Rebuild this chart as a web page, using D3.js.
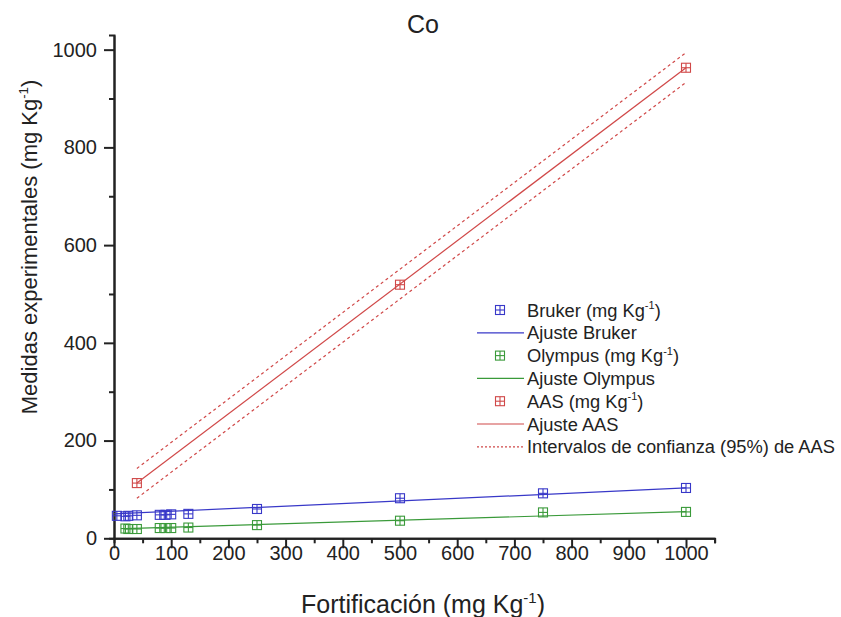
<!DOCTYPE html>
<html><head><meta charset="utf-8">
<script src="https://cdn.jsdelivr.net/npm/d3@7/dist/d3.min.js"></script>
<style>body{margin:0;background:#fff;} text{font-family:"Liberation Sans",Arial,sans-serif;fill:#222;}</style>
</head><body><svg id="c" width="841" height="617"></svg>
<script>
// Data
const brukerX = [5, 20, 25, 40, 80, 90, 100, 130, 250, 500, 750, 1000];
const brukerY = [46, 45, 46, 47, 48, 48, 49, 50, 60, 82, 92, 103];
const olympusX = [20, 25, 40, 80, 90, 100, 130, 250, 500, 750, 1000];
const olympusY = [20, 19, 19, 21, 21, 21, 22, 27, 36, 53, 54];
const aasX = [40, 500, 1000];
const aasY = [113, 519, 963];
const fitBrukerX = [0, 1000], fitBrukerY = [50, 103];
const fitOlympusX = [20, 1000], fitOlympusY = [20, 54.5];
const fitAasX = [40, 1000], fitAasY = [113, 963];
const ciUpperY = [143, 994], ciLowerY = [82, 933];
const xTicks = [0,100,200,300,400,500,600,700,800,900,1000];
const yTicks = [0,200,400,600,800,1000];

const svg = d3.select("#c");
svg.append("rect").attr("width",841).attr("height",617).attr("fill","#fff");
const x = d3.scaleLinear().domain([0,1050]).range([114,714.6]);
const y = d3.scaleLinear().domain([0,1030]).range([538.3,35]);

const cBlue="#3838c8", cGreen="#3a9a3a", cRed="#d04848";

// axes
const xAxis = svg.append("g").attr("transform","translate(0,538.3)");
xAxis.call(d3.axisBottom(x).tickValues(xTicks).tickSize(10).tickSizeOuter(0).tickFormat(d3.format("d")));
xAxis.append("g").call(d3.axisBottom(x).tickValues(d3.range(50,1100,100)).tickSize(5).tickFormat(""));
const yAxis = svg.append("g").attr("transform","translate(114,0)");
yAxis.call(d3.axisLeft(y).tickValues(yTicks).tickSize(10).tickSizeOuter(0).tickFormat(d3.format("d")));
yAxis.append("g").call(d3.axisLeft(y).tickValues(d3.range(100,1100,200)).tickSize(5).tickFormat(""));
svg.selectAll(".domain").attr("stroke","#222").attr("stroke-width",2);
svg.selectAll(".tick line").attr("stroke","#222").attr("stroke-width",2);
xAxis.selectAll(".tick text").attr("font-size",20).attr("dy","0.5em").attr("y",12).attr("fill","#222");
yAxis.selectAll(".tick text").attr("font-size",20).attr("x",-17).attr("fill","#222");
svg.selectAll(".tick text").style("font-family",'"Liberation Sans",Arial,sans-serif');

const line = d3.line().x(d=>x(d[0])).y(d=>y(d[1]));
function drawLine(xs, ys, color, dash){
  svg.append("path").attr("d", line(xs.map((v,i)=>[v,ys[i]])))
    .attr("fill","none").attr("stroke",color).attr("stroke-width",1.2)
    .attr("stroke-dasharray", dash||null);
}
drawLine(fitBrukerX, fitBrukerY, cBlue);
drawLine(fitOlympusX, fitOlympusY, cGreen);
drawLine(fitAasX, fitAasY, cRed);
drawLine(fitAasX, ciUpperY, cRed, "3,3");
drawLine(fitAasX, ciLowerY, cRed, "3,3");

function marker(g, cx, cy, color){
  const s=4.5;
  g.append("rect").attr("x",cx-s).attr("y",cy-s).attr("width",2*s).attr("height",2*s)
    .attr("fill","none").attr("stroke",color).attr("stroke-width",1.1);
  g.append("line").attr("x1",cx-s).attr("x2",cx+s).attr("y1",cy).attr("y2",cy).attr("stroke",color).attr("stroke-width",1.1);
  g.append("line").attr("x1",cx).attr("x2",cx).attr("y1",cy-s).attr("y2",cy+s).attr("stroke",color).attr("stroke-width",1.1);
}
const mg = svg.append("g");
brukerX.forEach((v,i)=>marker(mg, x(v), y(brukerY[i]), cBlue));
olympusX.forEach((v,i)=>marker(mg, x(v), y(olympusY[i]), cGreen));
aasX.forEach((v,i)=>marker(mg, x(v), y(aasY[i]), cRed));

// titles
svg.append("text").attr("x",423).attr("y",33).attr("text-anchor","middle").attr("font-size",25).text("Co");
function supLabel(t, base, size){
  t.append("tspan").text(base+" (mg Kg");
  t.append("tspan").attr("font-size",size*0.6).attr("dy",-size*0.4).text("-1");
  t.append("tspan").attr("dy",size*0.4).text(")");
}
const xt = svg.append("text").attr("x",423).attr("y",613).attr("text-anchor","middle").attr("font-size",25);
supLabel(xt,"Fortificación",25);
const yt = svg.append("text").attr("transform","translate(37,247) rotate(-90)").attr("text-anchor","middle").attr("font-size",22);
supLabel(yt,"Medidas experimentales",22);

// legend
const legend = [
  {type:"m", color:cBlue, label:"Bruker", sup:true},
  {type:"l", color:cBlue, label:"Ajuste Bruker"},
  {type:"m", color:cGreen, label:"Olympus", sup:true},
  {type:"l", color:cGreen, label:"Ajuste Olympus"},
  {type:"m", color:cRed, label:"AAS", sup:true},
  {type:"l", color:cRed, label:"Ajuste AAS"},
  {type:"d", color:cRed, label:"Intervalos de confianza (95%) de AAS"}
];
const lg = svg.append("g");
legend.forEach((d,i)=>{
  const cy = 310 + i*22.8;
  if(d.type==="m") marker(lg, 500, cy, d.color);
  else lg.append("line").attr("x1",477).attr("x2",524).attr("y1",cy).attr("y2",cy)
        .attr("stroke",d.color).attr("stroke-width",1.2).attr("stroke-dasharray",d.type==="d"?"2,2":null);
  const t = lg.append("text").attr("x",527).attr("y",cy+6.5).attr("font-size",18.3);
  if(d.sup) supLabel(t,d.label,18.3); else t.text(d.label);
});
</script></body></html>
